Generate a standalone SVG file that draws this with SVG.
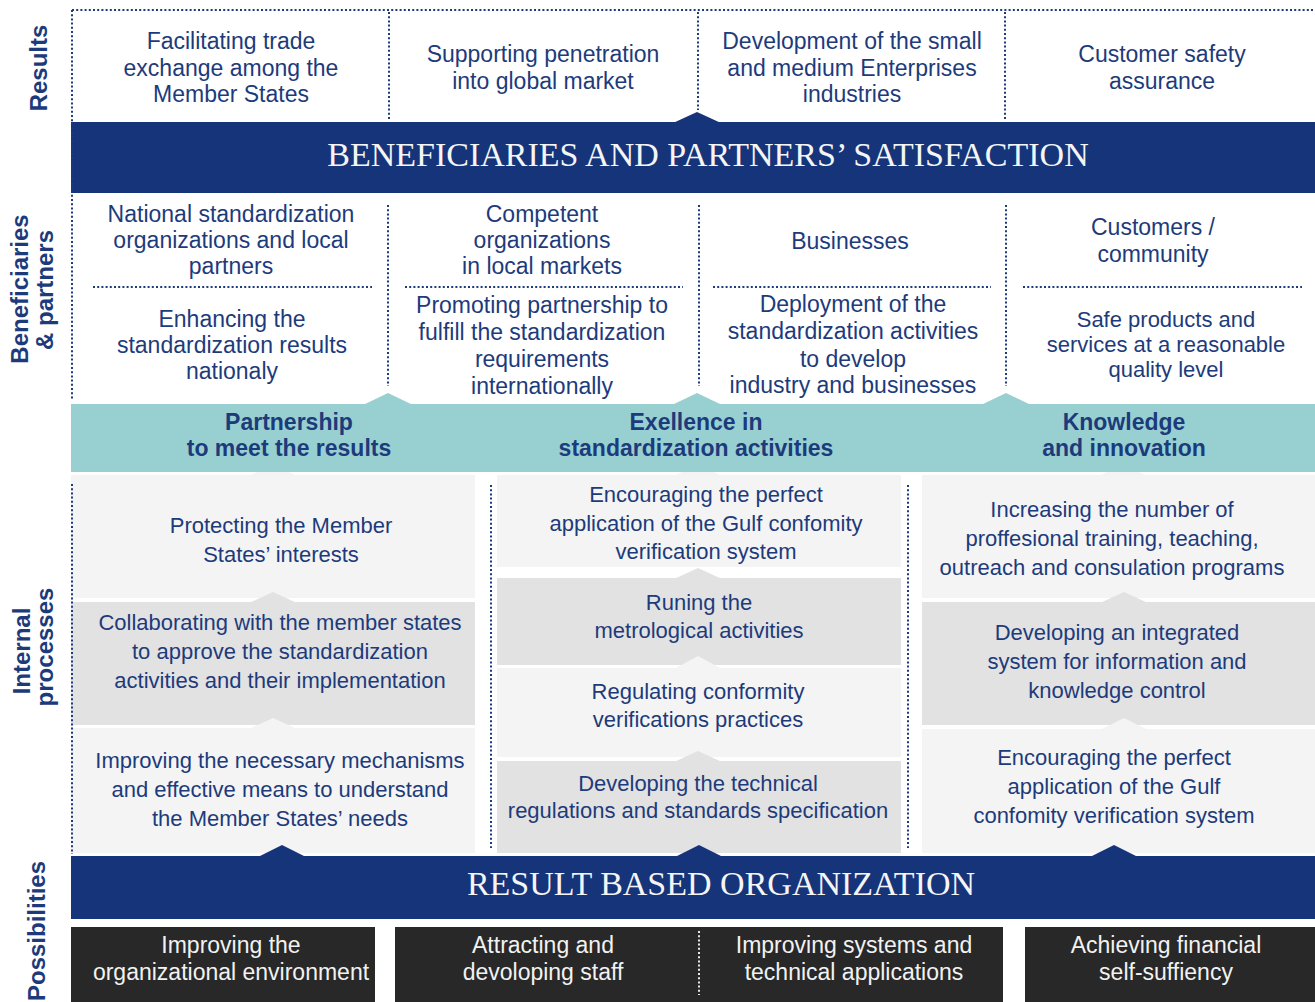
<svg xmlns="http://www.w3.org/2000/svg" width="1315" height="1002" viewBox="0 0 1315 1002">
<style>
.t{font-family:"Liberation Sans",Arial,sans-serif;font-size:23px;fill:#1d3b7b;text-anchor:middle}
.s{font-size:22px}
.b{font-weight:bold;font-size:23px}
.lab{font-family:"Liberation Sans",Arial,sans-serif;font-weight:bold;font-size:24px;fill:#1d3b7b;text-anchor:middle}
.ser{font-family:"Liberation Serif","Times New Roman",serif;font-size:34px;fill:#f5f5f5;text-anchor:middle}
.w{fill:#f2f2f2}
.dot{stroke:#1d3b7b;stroke-width:2;stroke-dasharray:2 2.2;fill:none}
.wdot{stroke:#e8e8e8;stroke-width:2;stroke-dasharray:2 2.2;fill:none}
.navy{fill:#15347a}
.teal{fill:#98d0d2}
.lg{fill:#f4f4f4}
.mg{fill:#e2e2e2}
.dk{fill:#282828}
</style>
<rect width="1315" height="1002" fill="#ffffff"/>

<g id="side-labels">
<text class="lab" transform="translate(47,68) rotate(-90)">Results</text>
<text class="lab" transform="translate(28,289) rotate(-90)">Beneficiaries</text>
<text class="lab" transform="translate(53,290) rotate(-90)">&amp; partners</text>
<text class="lab" transform="translate(30,651) rotate(-90)">Internal</text>
<text class="lab" transform="translate(53,647) rotate(-90)">processes</text>
<text class="lab" transform="translate(45,931) rotate(-90)">Possibilities</text>
</g>

<g id="boxes-bg">
<rect class="lg" x="71" y="475" width="404" height="123"/>
<rect class="mg" x="71" y="602" width="404" height="123"/>
<rect class="lg" x="71" y="728" width="404" height="125"/>
<rect class="lg" x="497" y="475" width="404" height="92"/>
<rect class="mg" x="497" y="578" width="404" height="87"/>
<rect class="lg" x="497" y="668" width="404" height="89"/>
<rect class="mg" x="497" y="761" width="404" height="92"/>
<rect class="lg" x="922" y="475" width="393" height="123"/>
<rect class="mg" x="922" y="602" width="393" height="123"/>
<rect class="lg" x="922" y="729" width="393" height="124"/>
</g>

<g id="connectors">
<polygon class="navy" points="673,123 697,112 721,123"/>
<polygon class="teal" points="365,404 388,393 411,404"/>
<polygon class="teal" points="674,404 697,393 720,404"/>
<polygon class="teal" points="983,404 1006,393 1029,404"/>
<polygon class="lg" points="249,476 273,464 297,476"/>
<polygon class="lg" points="674,476 698,464 722,476"/>
<polygon class="lg" points="1099,476 1123,464 1147,476"/>
<polygon class="mg" points="249,603 273,592 297,603"/>
<polygon class="lg" points="249,729 273,718 297,729"/>
<polygon class="mg" points="674,579 698,568 722,579"/>
<polygon class="lg" points="674,669 698,656 722,669"/>
<polygon class="mg" points="674,762 698,751 722,762"/>
<polygon class="mg" points="1100,603 1124,592 1148,603"/>
<polygon class="lg" points="1100,730 1124,718 1148,730"/>
<polygon class="navy" points="258,857 282,845 306,857"/>
<polygon class="navy" points="675,857 699,845 723,857"/>
<polygon class="navy" points="1090,857 1114,845 1138,857"/>
</g>

<g id="banner-satisfaction">
<rect class="navy" x="71" y="122" width="1244" height="71"/>
<text class="ser" x="708" y="166">BENEFICIARIES AND PARTNERS’ SATISFACTION</text>
</g>

<g id="band-themes">
<rect class="teal" x="71" y="404" width="1244" height="68"/>
</g>

<g id="banner-organization">
<rect class="navy" x="71" y="856" width="1244" height="63"/>
<text class="ser" x="721" y="895">RESULT BASED ORGANIZATION</text>
</g>

<g id="dividers">
<line class="dot" x1="72" y1="10" x2="1315" y2="10"/>
<line class="dot" x1="72" y1="10" x2="72" y2="400"/>
<line class="dot" x1="389" y1="12" x2="389" y2="120"/>
<line class="dot" x1="698" y1="12" x2="698" y2="110"/>
<line class="dot" x1="1005" y1="12" x2="1005" y2="120"/>
<line class="dot" x1="388" y1="205" x2="388" y2="386"/>
<line class="dot" x1="699" y1="205" x2="699" y2="386"/>
<line class="dot" x1="1006" y1="205" x2="1006" y2="386"/>
<line class="dot" x1="93" y1="287" x2="372" y2="287"/>
<line class="dot" x1="405" y1="287" x2="683" y2="287"/>
<line class="dot" x1="713" y1="287" x2="991" y2="287"/>
<line class="dot" x1="1023" y1="287" x2="1302" y2="287"/>
<line class="dot" x1="72" y1="484" x2="72" y2="854"/>
<line class="dot" x1="491" y1="485" x2="491" y2="848"/>
<line class="dot" x1="908" y1="485" x2="908" y2="848"/>
</g>

<g id="result-1"><text class="t" x="231" y="49">Facilitating trade</text><text class="t" x="231" y="76">exchange among the</text><text class="t" x="231" y="102">Member States</text></g>
<g id="result-2"><text class="t" x="543" y="62">Supporting penetration</text><text class="t" x="543" y="89">into global market</text></g>
<g id="result-3"><text class="t" x="852" y="49">Development of the small</text><text class="t" x="852" y="76">and medium Enterprises</text><text class="t" x="852" y="102">industries</text></g>
<g id="result-4"><text class="t" x="1162" y="62">Customer safety</text><text class="t" x="1162" y="89">assurance</text></g>

<g id="beneficiary-1"><text class="t" x="231" y="222">National standardization</text><text class="t" x="231" y="248">organizations and local</text><text class="t" x="231" y="274">partners</text></g>
<g id="goal-1"><text class="t" x="232" y="327">Enhancing the</text><text class="t" x="232" y="353">standardization results</text><text class="t" x="232" y="379">nationaly</text></g>
<g id="beneficiary-2"><text class="t" x="542" y="222">Competent</text><text class="t" x="542" y="248">organizations</text><text class="t" x="542" y="274">in local markets</text></g>
<g id="goal-2"><text class="t" x="542" y="313">Promoting partnership to</text><text class="t" x="542" y="340">fulfill the standardization</text><text class="t" x="542" y="367">requirements</text><text class="t" x="542" y="394">internationally</text></g>
<g id="beneficiary-3"><text class="t" x="850" y="249">Businesses</text></g>
<g id="goal-3"><text class="t" x="853" y="312">Deployment of the</text><text class="t" x="853" y="339">standardization activities</text><text class="t" x="853" y="367">to develop</text><text class="t" x="853" y="393">industry and businesses</text></g>
<g id="beneficiary-4"><text class="t" x="1153" y="235">Customers /</text><text class="t" x="1153" y="262">community</text></g>
<g id="goal-4"><text class="t s" x="1166" y="327">Safe products and</text><text class="t s" x="1166" y="352">services at a reasonable</text><text class="t s" x="1166" y="377">quality level</text></g>

<g id="theme-1"><text class="t b" x="289" y="430">Partnership</text><text class="t b" x="289" y="456">to meet the results</text></g>
<g id="theme-2"><text class="t b" x="696" y="430">Exellence in</text><text class="t b" x="696" y="456">standardization activities</text></g>
<g id="theme-3"><text class="t b" x="1124" y="430">Knowledge</text><text class="t b" x="1124" y="456">and innovation</text></g>

<g id="process-l1"><text class="t s" x="281" y="533">Protecting the Member</text><text class="t s" x="281" y="562">States’ interests</text></g>
<g id="process-l2"><text class="t s" x="280" y="630">Collaborating with the member states</text><text class="t s" x="280" y="659">to approve the standardization</text><text class="t s" x="280" y="688">activities and their implementation</text></g>
<g id="process-l3"><text class="t s" x="280" y="768">Improving the necessary mechanisms</text><text class="t s" x="280" y="797">and effective means to understand</text><text class="t s" x="280" y="826">the Member States’ needs</text></g>

<g id="process-m1"><text class="t s" x="706" y="502">Encouraging the perfect</text><text class="t s" x="706" y="531">application of the Gulf confomity</text><text class="t s" x="706" y="559">verification system</text></g>
<g id="process-m2"><text class="t s" x="699" y="610">Runing the</text><text class="t s" x="699" y="638">metrological activities</text></g>
<g id="process-m3"><text class="t s" x="698" y="699">Regulating conformity</text><text class="t s" x="698" y="727">verifications practices</text></g>
<g id="process-m4"><text class="t s" x="698" y="791">Developing the technical</text><text class="t s" x="698" y="818">regulations and standards specification</text></g>

<g id="process-r1"><text class="t s" x="1112" y="517">Increasing the number of</text><text class="t s" x="1112" y="546">proffesional training, teaching,</text><text class="t s" x="1112" y="575">outreach and consulation programs</text></g>
<g id="process-r2"><text class="t s" x="1117" y="640">Developing an integrated</text><text class="t s" x="1117" y="669">system for information and</text><text class="t s" x="1117" y="698">knowledge control</text></g>
<g id="process-r3"><text class="t s" x="1114" y="765">Encouraging the perfect</text><text class="t s" x="1114" y="794">application of the Gulf</text><text class="t s" x="1114" y="823">confomity verification system</text></g>

<g id="possibility-1"><rect class="dk" x="71" y="927" width="304" height="75"/><text class="t w" x="231" y="953">Improving the</text><text class="t w" x="231" y="980">organizational environment</text></g>
<g id="possibility-2"><rect class="dk" x="395" y="927" width="608" height="75"/><line class="wdot" x1="699" y1="931" x2="699" y2="995"/><text class="t w" x="543" y="953">Attracting and</text><text class="t w" x="543" y="980">devoloping staff</text><text class="t w" x="854" y="953">Improving systems and</text><text class="t w" x="854" y="980">technical applications</text></g>
<g id="possibility-3"><rect class="dk" x="1025" y="927" width="290" height="75"/><text class="t w" x="1166" y="953">Achieving financial</text><text class="t w" x="1166" y="980">self-suffiency</text></g>
</svg>
